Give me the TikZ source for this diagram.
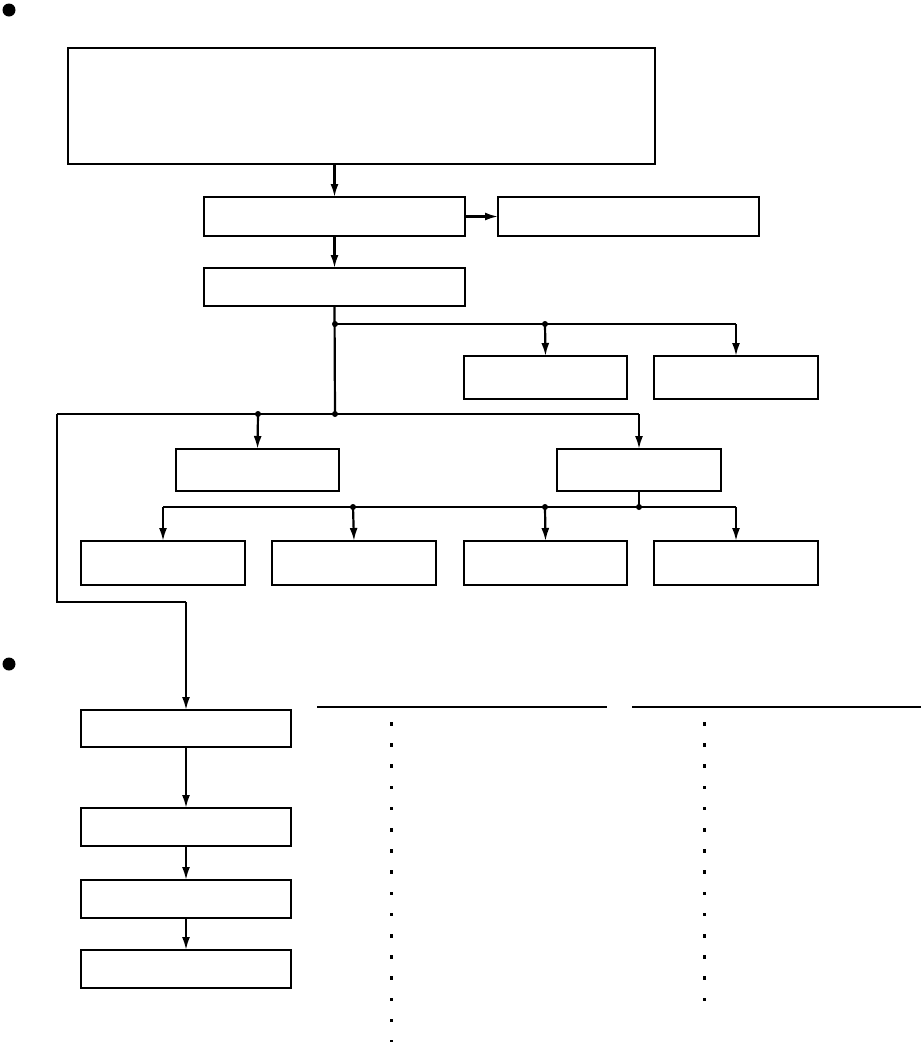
\documentclass[tikz,border=0pt]{standalone}
\usetikzlibrary{arrows.meta}
\begin{document}
\begin{tikzpicture}[x=1pt,y=-1pt,
  box/.style={draw, line width=2.2pt, rectangle, inner sep=0pt, outer sep=0pt},
  ln/.style={line width=2.2pt},
  arr/.style={line width=2.2pt, -{Latex[length=13pt,width=8pt]}},
  jdot/.style={circle, fill, inner sep=0pt, minimum size=6pt}]
\useasboundingbox (0,0) rectangle (922,1042);
% bullets
\fill (9,10) circle (6.5);
\fill (9,664) circle (6.5);
% boxes
\node[box, minimum width=587pt, minimum height=116pt] (big) at (361.5,106) {};
\node[box, minimum width=261pt, minimum height=39pt] (b2) at (334.5,216.5) {};
\node[box, minimum width=261pt, minimum height=39pt] (b3) at (628.5,216.5) {};
\node[box, minimum width=261pt, minimum height=38pt] (b4) at (334.5,287) {};
\node[box, minimum width=163pt, minimum height=43pt] (b5) at (545.5,377.5) {};
\node[box, minimum width=164pt, minimum height=43pt] (b6) at (736,377.5) {};
\node[box, minimum width=163pt, minimum height=42pt] (b7) at (257.5,470) {};
\node[box, minimum width=164pt, minimum height=42pt] (b8) at (639,470) {};
\node[box, minimum width=164pt, minimum height=44pt] (c1) at (163,563) {};
\node[box, minimum width=164pt, minimum height=44pt] (c2) at (354,563) {};
\node[box, minimum width=163pt, minimum height=44pt] (c3) at (545.5,563) {};
\node[box, minimum width=164pt, minimum height=44pt] (c4) at (736,563) {};
\node[box, minimum width=210pt, minimum height=37pt] (d1) at (186,728.5) {};
\node[box, minimum width=210pt, minimum height=38pt] (d2) at (186,827) {};
\node[box, minimum width=210pt, minimum height=38pt] (d3) at (186,899) {};
\node[box, minimum width=210pt, minimum height=38pt] (d4) at (186,969) {};
% junctions
\coordinate (j1) at (335,324);
\coordinate (j2) at (545,324);
\coordinate (j3) at (335,414);
\coordinate (j4) at (258,414);
\coordinate (jl) at (57,414);
\coordinate (j5) at (639,507);
\coordinate (j6) at (353,507);
\coordinate (j7) at (545,507);
\coordinate (k1) at (57,602);
\coordinate (k2) at (186,602);
% connectors
\draw[arr] (b2.north |- big.south) -- (b2.north);
\draw[arr] (b2.east) -- (b3.west);
\draw[arr] (b2.south) -- (b4.north);
\draw[ln] (b4.south) -- (j3);
\draw[ln] (j1) -- (j1 -| b6.north);
\draw[arr] (j2) -- (b5.north);
\draw[arr] (j1 -| b6.north) -- (b6.north);
\draw[ln] (jl) -- (j3 -| b8.north);
\draw[arr] (j4) -- (b7.north);
\draw[arr] (j3 -| b8.north) -- (b8.north);
\draw[ln] (b8.south) -- (j5);
\draw[ln] (j5 -| c1.north) -- (j5 -| c4.north);
\draw[arr] (j5 -| c1.north) -- (c1.north);
\draw[arr] (j6) -- (c2.north);
\draw[arr] (j7) -- (c3.north);
\draw[arr] (j5 -| c4.north) -- (c4.north);
\draw[ln] (jl) -- (k1) -- (k2);
\draw[arr] (k2) -- (d1.north);
\draw[arr] (d1.south) -- (d2.north);
\draw[arr] (d2.south) -- (d3.north);
\draw[arr] (d3.south) -- (d4.north);
% junction dots
\foreach \j in {j1,j2,j3,j4,j5,j6,j7} \node[jdot] at (\j) {};
% right tables
\draw[ln] (317,707) -- (607,707);
\draw[ln] (632,707) -- (921,707);
\foreach \i in {0,...,15} \fill (390,722+21.2*\i) rectangle (392.8,725.5+21.2*\i);
\foreach \i in {0,...,13} \fill (703,722+21.2*\i) rectangle (705.8,725.5+21.2*\i);
\end{tikzpicture}
\end{document}
